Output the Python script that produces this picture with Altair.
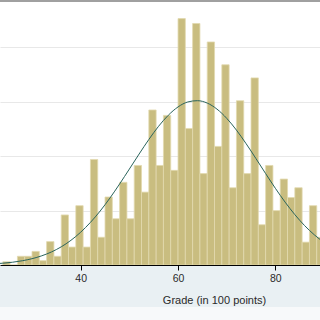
import altair as alt
import pandas as pd

# Histogram (density) of grades, bins of width 1.5 starting at 24
FIRST_EDGE = 24.0
BIN_WIDTH = 1.5
densities = [
    0.0006, 0.0, 0.0016, 0.0016, 0.0025, 0.0008, 0.0043, 0.0016, 0.0092, 0.0033,
    0.0109, 0.0033, 0.0194, 0.0051, 0.0125, 0.0085, 0.0152, 0.0085, 0.0183, 0.0134,
    0.0285, 0.0183, 0.0275, 0.0174, 0.0453, 0.0251, 0.0444, 0.0168, 0.0410, 0.0218,
    0.0368, 0.0142, 0.0302, 0.0168, 0.0344, 0.0074, 0.0183, 0.0100, 0.0158, 0.0124,
    0.0142, 0.0042, 0.0109, 0.0051,
]
bin_lo = [FIRST_EDGE + BIN_WIDTH * i for i in range(len(densities))]
bin_hi = [v + BIN_WIDTH for v in bin_lo]

# Normal density overlay
curve_grade = [22, 24, 26, 28, 30, 32, 34, 36, 38, 40, 42, 44, 46, 48, 50, 52, 54, 56,
               58, 60, 62, 64, 66, 68, 70, 72, 74, 76, 78, 80, 82, 84, 86, 88, 90]
curve_density = [0.00021, 0.00033, 0.00051, 0.00078, 0.00116, 0.00169, 0.00240, 0.00334,
                 0.00454, 0.00603, 0.00783, 0.00992, 0.01230, 0.01490, 0.01764, 0.02040,
                 0.02307, 0.02550, 0.02753, 0.02906, 0.02997, 0.03021, 0.02977, 0.02866,
                 0.02697, 0.02480, 0.02229, 0.01958, 0.01681, 0.01410, 0.01156, 0.00926,
                 0.00725, 0.00555, 0.00415]

x_ticks = [40, 60, 80]
y_grid = [0.01, 0.02, 0.03, 0.04]

bars_df = pd.DataFrame({"lo": bin_lo, "hi": bin_hi, "density": densities,
                        "base": [0.0] * len(densities)})
curve_df = pd.DataFrame({"grade": curve_grade, "density": curve_density})

xscale = alt.Scale(domain=[23.42, 89.17], nice=False, zero=False)
yscale = alt.Scale(domain=[0, 0.04835], nice=False, zero=True)

FONT = "Liberation Sans"

bars = alt.Chart(bars_df).mark_rect(
    fill="#C9BD80", stroke="#E2D9AE", strokeWidth=0.8, clip=True
).encode(
    x=alt.X("lo:Q", scale=xscale, axis=alt.Axis(
        values=x_ticks, format="d", grid=False,
        labelFont=FONT, labelFontSize=10.5, labelColor="#2A2A2A", labelPadding=3,
        tickColor="black", tickSize=5, tickWidth=1,
        domainColor="black", domainWidth=1,
        title="Grade (in 100 points)", titleFont=FONT, titleFontSize=11,
        titleFontWeight="normal", titleColor="#2A2A2A",
        titleX=214, titleY=35, titleBaseline="middle", titleAlign="center",
    )),
    x2="hi:Q",
    y=alt.Y("density:Q", scale=yscale, axis=alt.Axis(
        values=y_grid, labels=False, ticks=False, domain=False, grid=True,
        gridColor="#E8E8E8", gridWidth=1.2, title="",
    )),
    y2="base:Q",
)

curve = alt.Chart(curve_df).mark_line(
    color="#2A645C", strokeWidth=1, clip=True, interpolate="monotone"
).encode(
    x=alt.X("grade:Q", scale=xscale),
    y=alt.Y("density:Q", scale=yscale),
)

deco = pd.DataFrame({"a": [0]})
top_band = alt.Chart(deco).mark_rule(color="#A0A0A0", strokeWidth=2).encode(
    x=alt.value(0), x2=alt.value(320), y=alt.value(-1)
)
bottom_band = alt.Chart(deco).mark_rect(color="#F7F9FA").encode(
    x=alt.value(0), x2=alt.value(320), y=alt.value(305), y2=alt.value(320)
)

chart = alt.layer(bottom_band, bars, curve, top_band).properties(
    width=320, height=263,
    autosize=alt.AutoSizeParams(type="none"),
    padding={"left": 0, "top": 2, "right": 0, "bottom": 55},
    background="#E9F0F3",
).configure_view(fill="white", strokeWidth=0)

chart.save("out.html", embed_options={"renderer": "svg", "actions": False})
